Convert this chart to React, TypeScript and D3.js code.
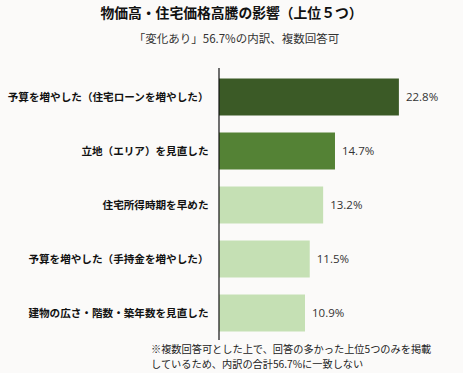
import React, { useEffect, useRef } from "react";
import * as d3 from "d3";

const categories = [
  "予算を増やした（住宅ローンを増やした）",
  "立地（エリア）を見直した",
  "住宅所得時期を早めた",
  "予算を増やした（手持金を増やした）",
  "建物の広さ・階数・築年数を見直した",
];
const values = [22.8, 14.7, 13.2, 11.5, 10.9];
const barColors = ["#3b5a26", "#548235", "#c5e0b4", "#c5e0b4", "#c5e0b4"];
const title = "物価高・住宅価格高騰の影響（上位５つ）";
const subtitle = "「変化あり」56.7%の内訳、複数回答可";
const footnotes = [
  "※複数回答可とした上で、回答の多かった上位5つのみを掲載",
  "しているため、内訳の合計56.7%に一致しない",
];

const W = 463;
const H = 378;

export default function App() {
  const ref = useRef<SVGSVGElement>(null);
  useEffect(() => {
    const svg = d3.select(ref.current);
    svg.selectAll("*").remove();
    const font = "'Noto Sans CJK JP', 'Noto Sans', sans-serif";

    svg.append("rect").attr("width", W).attr("height", H).attr("fill", "#ffffff");
    svg.append("rect").attr("width", W).attr("height", 373).attr("fill", "#fbfaf9");

    const x = d3.scaleLinear().domain([0, 30]).range([219, 455.7]);
    const y = d3
      .scaleBand<string>()
      .domain(categories)
      .range([70, 340])
      .paddingInner(0.315)
      .paddingOuter(0.1575);

    svg
      .append("text")
      .attr("x", 231.5)
      .attr("y", 18)
      .attr("text-anchor", "middle")
      .attr("font-family", font)
      .attr("font-weight", "bold")
      .attr("font-size", 13.8)
      .attr("fill", "#111")
      .text(title);

    svg
      .append("text")
      .attr("x", 236.5)
      .attr("y", 43)
      .attr("text-anchor", "middle")
      .attr("font-family", font)
      .attr("font-size", 11.5)
      .attr("fill", "#333")
      .text(subtitle);

    const g = svg.append("g");
    g.selectAll("rect.bar")
      .data(values)
      .enter()
      .append("rect")
      .attr("class", "bar")
      .attr("x", x(0))
      .attr("y", (_, i) => y(categories[i])!)
      .attr("width", (d) => x(d) - x(0))
      .attr("height", y.bandwidth())
      .attr("fill", (_, i) => barColors[i]);

    g.selectAll("text.val")
      .data(values)
      .enter()
      .append("text")
      .attr("class", "val")
      .attr("x", (d) => x(d) + 7)
      .attr("y", (_, i) => y(categories[i])! + y.bandwidth() / 2)
      .attr("dy", "0.35em")
      .attr("font-family", "'Open Sans', 'Noto Sans', sans-serif")
      .attr("font-size", 11.5)
      .attr("fill", "#333")
      .text((d) => d.toFixed(1) + "%");

    g.selectAll("text.cat")
      .data(categories)
      .enter()
      .append("text")
      .attr("class", "cat")
      .attr("x", 208.5)
      .attr("y", (d) => y(d)! + y.bandwidth() / 2)
      .attr("dy", "0.35em")
      .attr("text-anchor", "end")
      .attr("font-family", font)
      .attr("font-weight", "bold")
      .attr("font-size", 10.6)
      .attr("fill", "#111")
      .text((d) => d);

    svg
      .append("line")
      .attr("x1", x(0))
      .attr("x2", x(0))
      .attr("y1", 68)
      .attr("y2", 340)
      .attr("stroke", "#111")
      .attr("stroke-width", 1.2);

    svg
      .selectAll("text.fn")
      .data(footnotes)
      .enter()
      .append("text")
      .attr("class", "fn")
      .attr("x", 151)
      .attr("y", (_, i) => 353 + i * 14.5)
      .attr("font-family", font)
      .attr("font-size", 10.2)
      .attr("fill", "#222")
      .text((d) => d);
  }, []);

  return (
    <div style={{ position: "absolute", left: 0, top: 0 }}>
      <svg ref={ref} width={W} height={H} style={{ display: "block" }} />
    </div>
  );
}
